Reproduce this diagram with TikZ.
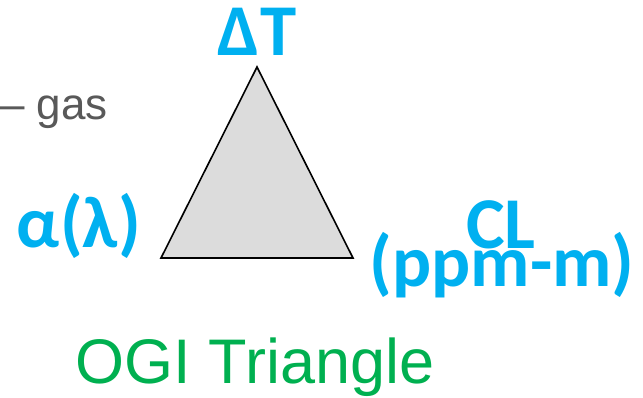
\documentclass[tikz,border=0pt]{standalone}
\usepackage{fontspec}
\setmainfont{Liberation Sans}
\newfontfamily\calib{Carlito}
\definecolor{cy}{HTML}{00B0F0}
\definecolor{gr}{HTML}{00B050}
\definecolor{gy}{HTML}{595959}
\definecolor{tri}{HTML}{DCDCDC}
\begin{document}
\begin{tikzpicture}[x=1pt,y=-1pt,
  lbl/.style={inner sep=0pt,anchor=base,text=cy,font=\calib\bfseries\fontsize{73}{73}\selectfont},
  ]
\useasboundingbox (0,0) rectangle (643,397);
\coordinate (top) at (257,67);
\coordinate (bl) at (161,258);
\coordinate (br) at (353,258);
\filldraw[fill=tri,draw=black,line width=1.6pt,line join=miter] (top) -- (bl) -- (br) -- cycle;
\node[lbl] (dt) at (257,55) {ΔT};
\node[lbl] (al) at (79,247) {α(λ)};
\node[lbl] (cl) at (501,248) {CL};
\node[lbl] (ppm) at (502,286) {(ppm-m)};
\node[inner sep=0pt,anchor=base west,text=gy,font=\fontsize{44}{44}\selectfont] (gas) at (0,119) {– gas};
\node[inner sep=0pt,anchor=base,text=gr,font=\fontsize{63}{63}\selectfont] (ogi) at (255,383) {OGI Triangle};
\end{tikzpicture}
\end{document}
